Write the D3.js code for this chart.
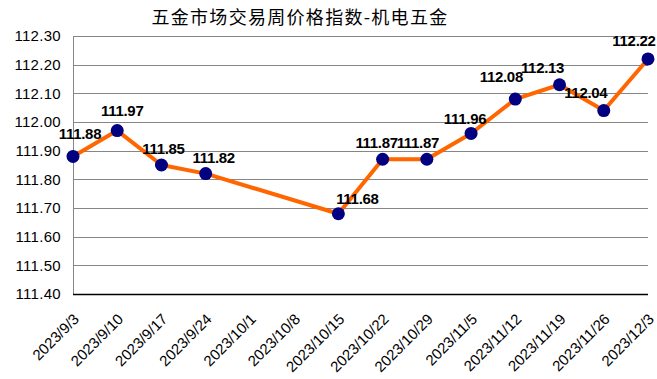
<!DOCTYPE html>
<html>
<head>
<meta charset="utf-8">
<script src="https://cdn.jsdelivr.net/npm/d3@7"></script>
<style>
  body { margin: 0; background: #fff; }
  svg { display: block; font-family: Arial, "Liberation Sans", sans-serif; }
</style>
</head>
<body>
<svg id="chart" width="657" height="379"></svg>
<script>
// chart data
const title = '五金市场交易周价格指数-机电五金';
const dates = ['2023/9/3', '2023/9/10', '2023/9/17', '2023/9/24', '2023/10/1', '2023/10/8', '2023/10/15',
    '2023/10/22', '2023/10/29', '2023/11/5', '2023/11/12', '2023/11/19', '2023/11/26', '2023/12/3'];
// null = no value that week (line goes straight across)
const values = [111.88, 111.97, 111.85, 111.82, null, null, 111.68,
    111.87, 111.87, 111.96, 112.08, 112.13, 112.04, 112.22];
const yTicks = [111.40, 111.50, 111.60, 111.70, 111.80, 111.90, 112.00, 112.10, 112.20, 112.30];

// label nudges [dx, dy] from the marker, as they sit in the original
const labelNudge = {
    '2023/9/3': [7, -17], '2023/9/10': [5, -15], '2023/9/17': [2, -11], '2023/9/24': [8, -11],
    '2023/10/15': [19, -10], '2023/10/22': [-6, -11], '2023/10/29': [-9, -11], '2023/11/5': [-6, -9],
    '2023/11/12': [-14, -17], '2023/11/19': [-17, -12], '2023/11/26': [-18, -13], '2023/12/3': [-14, -13]
};

const svg = d3.select('#chart');
const plotLeft = 73, plotRight = 648, plotTop = 36, plotBottom = 294;

const x = d3.scalePoint().domain(dates).range([plotLeft, plotRight]).padding(0);
const y = d3.scaleLinear().domain([111.40, 112.30]).range([plotBottom, plotTop]);

const points = dates.map((d, i) => ({ date: d, value: values[i] })).filter(d => d.value !== null);

// title
svg.append('text')
    .attr('x', 300)
    .attr('y', 24)
    .attr('text-anchor', 'middle')
    .attr('font-size', '18px')
    .attr('letter-spacing', '1.3px')
    .attr('font-family', '"Noto Sans CJK SC", sans-serif')
    .attr('fill', '#000')
    .text(title);

// gridlines
svg.selectAll('.grid')
    .data(yTicks.slice(1))
    .enter().append('line')
    .attr('x1', plotLeft)
    .attr('x2', plotRight)
    .attr('y1', d => Math.round(y(d)) + 0.5)
    .attr('y2', d => Math.round(y(d)) + 0.5)
    .attr('stroke', '#868686')
    .attr('stroke-width', 1);

// y axis (labels only, gray line)
const yAxis = svg.append('g')
    .attr('transform', `translate(${plotLeft},0)`)
    .call(d3.axisLeft(y).tickValues(yTicks).tickFormat(d3.format('.2f')).tickSize(0).tickPadding(12));
yAxis.select('.domain').attr('stroke', '#868686');
yAxis.selectAll('text')
    .attr('font-size', '15px')
    .attr('font-family', 'Arial, "Liberation Sans", sans-serif')
    .attr('letter-spacing', '0.3px')
    .attr('fill', '#000');

// x axis
svg.append('line')
    .attr('x1', plotLeft)
    .attr('x2', plotRight)
    .attr('y1', plotBottom + 0.5)
    .attr('y2', plotBottom + 0.5)
    .attr('stroke', '#000')
    .attr('stroke-width', 1.5);

svg.selectAll('.xlabel')
    .data(dates)
    .enter().append('text')
    .attr('class', 'xlabel')
    .attr('transform', d => `translate(${x(d) + 7},${plotBottom + 26}) rotate(-45)`)
    .attr('text-anchor', 'end')
    .attr('font-size', '15px')
    .attr('fill', '#000')
    .text(d => d);

// line
const line = d3.line()
    .x(d => x(d.date))
    .y(d => y(d.value));

svg.append('path')
    .datum(points)
    .attr('d', line)
    .attr('fill', 'none')
    .attr('stroke', '#FF6600')
    .attr('stroke-width', 4)
    .attr('stroke-linejoin', 'round');

// markers
svg.selectAll('.dot')
    .data(points)
    .enter().append('circle')
    .attr('cx', d => x(d.date))
    .attr('cy', d => y(d.value))
    .attr('r', 6.5)
    .attr('fill', '#000080');

// value labels
svg.selectAll('.vlabel')
    .data(points)
    .enter().append('text')
    .attr('x', d => x(d.date) + labelNudge[d.date][0])
    .attr('y', d => y(d.value) + labelNudge[d.date][1])
    .attr('text-anchor', 'middle')
    .attr('font-size', '15px')
    .attr('font-weight', 'bold')
    .attr('letter-spacing', '-0.3px')
    .attr('fill', '#000')
    .text(d => d.value.toFixed(2));
</script>
</body>
</html>
